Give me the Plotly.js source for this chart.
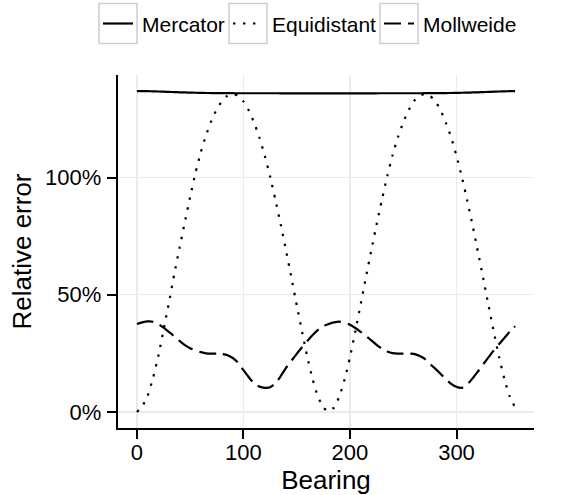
<!DOCTYPE html>
<html>
<head>
<meta charset="utf-8">
<script src="https://cdn.plot.ly/plotly-3.0.1.min.js"></script>
<style>html,body{margin:0;padding:0;background:#fff;}#chart{width:561px;height:495px;}</style>
</head>
<body>
<div id="chart"></div>
<script>
// ---- data ----
const bearing = [0,5,10,15,20,25,30,35,40,45,50,55,60,65,70,75,80,85,90,95,100,105,110,115,120,125,130,135,140,145,150,155,160,165,170,175,180,185,190,195,200,205,210,215,220,225,230,235,240,245,250,255,260,265,270,275,280,285,290,295,300,305,310,315,320,325,330,335,340,345,350,355];
const mercator = [136.9,136.88,136.84,136.78,136.7,136.62,136.53,136.45,136.37,136.3,136.23,136.17,136.12,136.08,136.05,136.02,136.0,135.99,135.98,135.97,135.97,135.96,135.96,135.96,135.96,135.96,135.96,135.95,135.95,135.95,135.95,135.95,135.95,135.95,135.95,135.95,135.95,135.95,135.95,135.95,135.95,135.95,135.95,135.95,135.95,135.95,135.96,135.96,135.96,135.96,135.96,135.96,135.97,135.97,135.98,135.99,136.0,136.02,136.05,136.08,136.12,136.17,136.23,136.3,136.37,136.45,136.53,136.62,136.7,136.78,136.84,136.88];
const equidistant = [0,2.4,6.8,14.3,23.6,35.0,46.5,58.6,70.0,81.0,91.8,102.0,110.8,118.2,124.3,129.2,132.7,134.9,135.6,134.9,132.5,128.6,123.4,117.0,109.3,100.5,90.5,80.0,68.8,57.4,45.6,34.3,23.4,13.9,6.5,1.9,0.2,1.9,6.6,14.0,23.3,34.4,45.8,57.5,68.9,80.0,90.6,100.6,109.5,117.2,123.5,128.7,132.6,134.9,135.6,134.9,132.6,128.7,123.4,117.1,109.2,100.3,90.3,79.8,68.6,57.2,45.6,34.2,23.4,14.0,6.6,2.0];
const mollweide = [37.5,38.2,38.6,38.5,37.5,36.0,34.2,32.3,30.3,28.5,27.2,26.2,25.5,25.0,24.9,24.9,24.7,24.2,23.0,21.0,17.8,14.8,12.2,10.8,10.3,10.5,12.2,15.3,18.8,21.8,24.8,27.6,30.3,32.8,35.0,36.6,37.5,38.2,38.5,38.2,37.2,35.8,34.2,32.5,30.5,28.6,27.0,25.8,25.1,24.9,24.9,24.9,24.8,24.0,22.7,20.5,18.5,16.3,14.0,12.0,10.7,10.3,11.7,14.3,17.2,20.3,23.3,26.3,29.0,31.6,34.3,36.6];
const seriesNames = ["Mercator","Equidistant","Mollweide"];
const xTicks = [0,100,200,300];
const yTicks = [0,50,100];
const yTickText = ["0%","50%","100%"];

// ---- styling ----
const FONT = "Liberation Sans, Arial, Helvetica, sans-serif";
const LW = 2.2;
const dashes = ["solid","2.4px,7.6px","17px,7px"];
const values = [mercator, equidistant, mollweide];

const traces = seriesNames.map((n,i)=>({
  type:"scatter", mode:"lines", name:n, x:bearing, y:values[i],
  line:{color:"#000", width:LW, dash:dashes[i], shape:"spline", smoothing:0.6}, showlegend:false, hoverinfo:"skip"
}));

// plot area in pixels (for the hand-drawn legend)
const M = {l:118, r:27, t:75, b:67};
const W = 561, H = 495;
const PW = W - M.l - M.r, PH = H - M.t - M.b;
const fx = p => (p - M.l)/PW;
const fy = p => (H - M.b - p)/PH;

const shapes = [], annotations = [];
const keyBoxes = [[99,137],[229,267],[380,418]];
const textX = [141,271,422];
keyBoxes.forEach((b,i)=>{
  shapes.push({type:"rect", xref:"paper", yref:"paper", x0:fx(b[0]), x1:fx(b[1]), y0:fy(43.5), y1:fy(3.5),
    line:{color:"#cfcfcf", width:1.6}, fillcolor:"#fff", layer:"above"});
  shapes.push({type:"line", xref:"paper", yref:"paper", x0:fx(b[0]+4), x1:fx(b[1]-4), y0:fy(23.5), y1:fy(23.5),
    line:{color:"#000", width:LW, dash:dashes[i]}, layer:"above"});
  annotations.push({xref:"paper", yref:"paper", x:fx(textX[i]), y:fy(24), xanchor:"left", yanchor:"middle",
    text:seriesNames[i], showarrow:false, font:{family:FONT, size:21, color:"#000"}, borderpad:0});
});

const layout = {
  width:W, height:H, margin:M,
  paper_bgcolor:"#fff", plot_bgcolor:"#fff",
  font:{family:FONT, color:"#000"},
  showlegend:false,
  xaxis:{range:[-17.75,372.75], tickvals:xTicks, ticks:"outside", ticklen:9, tickwidth:2, tickcolor:"#000",
    showline:true, linecolor:"#000", linewidth:2.2, showgrid:true, gridcolor:"#ebebeb", gridwidth:1.2,
    zeroline:false, tickfont:{size:22, color:"#000"}, ticklabelstandoff:-6,
    title:{text:"Bearing", font:{size:26, color:"#000"}, standoff:8}},
  yaxis:{range:[-6.85,143.75], tickvals:yTicks, ticktext:yTickText, ticks:"outside", ticklen:9, tickwidth:2, tickcolor:"#000",
    showline:true, linecolor:"#000", linewidth:2.2, showgrid:true, gridcolor:"#ebebeb", gridwidth:1.2,
    zeroline:false, tickfont:{size:22, color:"#000"}, ticklabelstandoff:1,
    title:{text:"Relative error", font:{size:26, color:"#000"}, standoff:6}},
  shapes:shapes, annotations:annotations
};

Plotly.newPlot("chart", traces, layout, {displayModeBar:false, staticPlot:true});
</script>
</body>
</html>
